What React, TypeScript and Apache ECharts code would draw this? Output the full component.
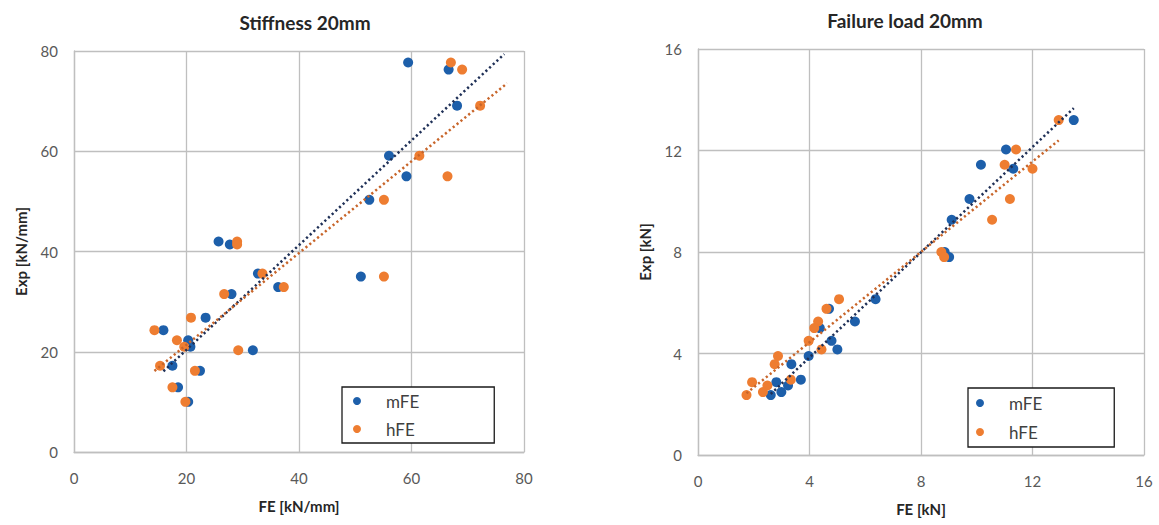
import React, { useEffect, useRef } from "react";
import * as echarts from "echarts";

// ---------- Data: Stiffness 20mm ----------
const stiffExp = [77.7, 76.3, 69.1, 59.1, 55.0, 50.3, 42.0, 41.4, 35.6, 35.0, 32.9, 31.5, 26.8, 24.3, 22.3, 21.0, 20.3, 17.2, 16.2, 12.9, 10.0];
const stiffMFE = [59.4, 66.6, 68.1, 56.0, 59.1, 52.5, 25.7, 27.7, 32.7, 51.0, 36.3, 28.0, 23.4, 15.9, 20.3, 20.7, 31.8, 17.5, 22.4, 18.5, 20.3];
const stiffHFE = [67.0, 69.0, 72.2, 61.4, 66.4, 55.1, 29.0, 29.0, 33.5, 55.1, 37.3, 26.7, 20.8, 14.3, 18.3, 19.6, 29.2, 15.3, 21.5, 17.5, 19.8];
const stiffTrendRangeM = [15.9, 76.5];
const stiffTrendRangeH = [14.3, 77.0];

// ---------- Data: Failure load 20mm ----------
const loadExp = [13.2, 12.04, 11.44, 11.28, 10.09, 9.27, 8.0, 7.8, 6.14, 5.76, 5.26, 5.0, 4.5, 4.16, 3.9, 3.58, 2.97, 2.87, 2.74, 2.48, 2.36];
const loadMFE = [13.48, 11.05, 10.15, 11.31, 9.74, 9.1, 8.85, 9.01, 6.37, 4.7, 5.63, 4.37, 4.79, 5.0, 3.97, 3.35, 3.69, 2.81, 3.23, 2.99, 2.61];
const loadHFE = [12.94, 11.41, 11.0, 12.0, 11.19, 10.55, 8.73, 8.83, 5.06, 4.61, 4.31, 4.17, 3.97, 4.43, 2.87, 2.75, 3.33, 1.94, 2.49, 2.33, 1.74];
const loadTrendRangeM = [2.61, 13.48];
const loadTrendRangeH = [1.74, 12.94];

const titles = ["Stiffness 20mm", "Failure load 20mm"];
const xNames = ["FE [kN/mm]", "FE [kN]"];
const yNames = ["Exp [kN/mm]", "Exp [kN]"];
const seriesNames = ["mFE", "hFE"];

const BLUE = "#1D5FAA";
const ORANGE = "#EE7D31";
const BLUE_TREND = "#1F3057";
const ORANGE_TREND = "#C8652A";
const GRID = "#BFBFBF";
const FONT = "Lato, 'Liberation Sans', sans-serif";

function pairs(xs: number[], ys: number[]) {
  return xs.map((x, i) => [x, ys[i]]);
}

function trend(xs: number[], ys: number[], range: number[]) {
  const n = xs.length;
  const mx = xs.reduce((a, b) => a + b, 0) / n;
  const my = ys.reduce((a, b) => a + b, 0) / n;
  let sxy = 0;
  let sxx = 0;
  for (let i = 0; i < n; i++) {
    sxy += (xs[i] - mx) * (ys[i] - my);
    sxx += (xs[i] - mx) * (xs[i] - mx);
  }
  const b = sxy / sxx;
  const a = my - b * mx;
  return range.map((x) => [x, a + b * x]);
}

export default function App() {
  const ref = useRef<HTMLDivElement>(null);

  useEffect(() => {
    if (!ref.current) return;
    const chart = echarts.init(ref.current, undefined, { renderer: "svg" });

    const axisCommon = {
      axisLine: { show: true, lineStyle: { color: GRID, width: 1.3 } },
      axisTick: { show: false },
      splitLine: { show: true, lineStyle: { color: GRID, width: 1.3 } },
      axisLabel: { color: "#595959", fontSize: 15, fontFamily: FONT },
      nameLocation: "middle" as const,
      nameTextStyle: { color: "#262626", fontSize: 15, fontWeight: "bold" as const, fontFamily: FONT },
    };

    const scatter = (name: string, color: string, idx: number, data: number[][]) => ({
      name,
      type: "scatter",
      xAxisIndex: idx,
      yAxisIndex: idx,
      symbol: "circle",
      symbolSize: 10,
      itemStyle: { color, opacity: 1 },
      data,
      z: 3,
    });

    const trendLine = (name: string, color: string, idx: number, data: number[][]) => ({
      name,
      type: "line",
      xAxisIndex: idx,
      yAxisIndex: idx,
      symbol: "none",
      lineStyle: { color, width: 2.5, type: [2.2, 2.8], cap: "butt" },
      data,
      z: 4,
      silent: true,
    });

    const legendCommon = {
      orient: "vertical" as const,
      icon: "circle",
      itemWidth: 48,
      itemHeight: 8,
      borderColor: "#1a1a1a",
      borderWidth: 1.3,
      backgroundColor: "#fff",
      data: seriesNames,
      textStyle: { color: "#404040", fontSize: 17, fontFamily: FONT, lineHeight: 20 },
    };

    chart.setOption({
      animation: false,
      backgroundColor: "#fff",
      title: [
        {
          text: titles[0],
          left: 300,
          top: 8,
          textAlign: "center",
          textStyle: { fontSize: 19, fontWeight: "bold", color: "#262626", fontFamily: FONT },
        },
        {
          text: titles[1],
          left: 900,
          top: 6,
          textAlign: "center",
          textStyle: { fontSize: 19, fontWeight: "bold", color: "#262626", fontFamily: FONT },
        },
      ],
      grid: [
        { left: 74, top: 51, width: 450, height: 401 },
        { left: 698, top: 49, width: 446, height: 406 },
      ],
      xAxis: [
        { ...axisCommon, gridIndex: 0, type: "value", min: 0, max: 80, interval: 20, name: xNames[0], nameGap: 46, axisLabel: { ...axisCommon.axisLabel, margin: 18 } },
        { ...axisCommon, gridIndex: 1, type: "value", min: 0, max: 16, interval: 4, name: xNames[1], nameGap: 46, axisLabel: { ...axisCommon.axisLabel, margin: 18 } },
      ],
      yAxis: [
        { ...axisCommon, gridIndex: 0, type: "value", min: 0, max: 80, interval: 20, name: yNames[0], nameGap: 46, axisLabel: { ...axisCommon.axisLabel, margin: 16 } },
        { ...axisCommon, gridIndex: 1, type: "value", min: 0, max: 16, interval: 4, name: yNames[1], nameGap: 46, axisLabel: { ...axisCommon.axisLabel, margin: 16 } },
      ],
      legend: [
        { ...legendCommon, left: 342, top: 387, padding: [4, 75, 4, 11], itemGap: 8 },
        { ...legendCommon, left: 968, top: 388, padding: [5, 72, 5, 8], itemGap: 9 },
      ],
      series: [
        scatter(seriesNames[0], BLUE, 0, pairs(stiffMFE, stiffExp)),
        scatter(seriesNames[1], ORANGE, 0, pairs(stiffHFE, stiffExp)),
        trendLine("mFE trend", BLUE_TREND, 0, trend(stiffMFE, stiffExp, stiffTrendRangeM)),
        trendLine("hFE trend", ORANGE_TREND, 0, trend(stiffHFE, stiffExp, stiffTrendRangeH)),
        scatter(seriesNames[0], BLUE, 1, pairs(loadMFE, loadExp)),
        scatter(seriesNames[1], ORANGE, 1, pairs(loadHFE, loadExp)),
        trendLine("mFE trend", BLUE_TREND, 1, trend(loadMFE, loadExp, loadTrendRangeM)),
        trendLine("hFE trend", ORANGE_TREND, 1, trend(loadHFE, loadExp, loadTrendRangeH)),
      ],
    });

    return () => chart.dispose();
  }, []);

  return (
    <div
      ref={ref}
      style={{ position: "fixed", left: 0, top: 0, width: 1159, height: 525, background: "#fff" }}
    />
  );
}
